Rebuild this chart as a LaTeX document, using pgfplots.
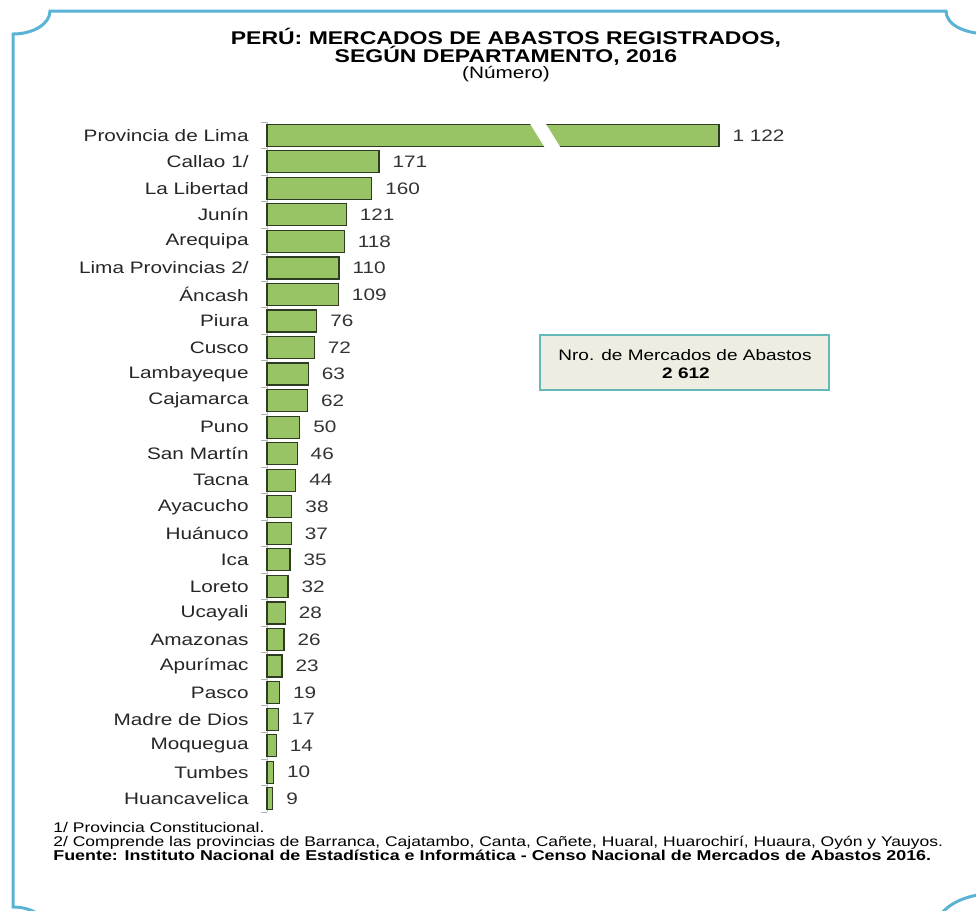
\documentclass[border=0pt]{standalone}
\usepackage{pgfplots}
\pgfplotsset{compat=1.18}
\usepackage{pgfplotstable}
\usepackage{fontspec}
\setmainfont{Liberation Sans}[FakeStretch=1.25]

\definecolor{barfill}{RGB}{152,196,102}
\definecolor{bardraw}{RGB}{45,60,35}
\definecolor{framec}{RGB}{90,178,212}
\definecolor{boxfill}{RGB}{238,237,226}
\definecolor{boxdraw}{RGB}{100,185,185}

% idx 0 = Huancavelica (bottom) ... 25 = Provincia de Lima (top)
% shown = drawn length (the Lima bar is broken), value = printed number
\pgfplotstableread{
idx shown value
0 9 9
1 10 10
2 14 14
3 17 17
4 19 19
5 23 23
6 26 26
7 28 28
8 32 32
9 35 35
10 37 37
11 38 38
12 44 44
13 46 46
14 50 50
15 62 62
16 63 63
17 72 72
18 76 76
19 109 109
20 110 110
21 118 118
22 121 121
23 160 160
24 171 171
25 690 1122
}\mercados

\newcommand{\lab}{\fontsize{8.3}{9}\selectfont}

\begin{document}
\begin{tikzpicture}
\useasboundingbox (0,0) rectangle (488pt,-455.5pt);
\clip (0,0) rectangle (488pt,-455.5pt);

\begin{scope}[x=0.5pt,y=-0.5pt]
% frame
\draw[framec, line width=1.5pt]
  (50,935) .. controls (50,918) and (33,907) .. (13,907)
  -- (13,34) .. controls (33,34) and (50,24) .. (50,11)
  -- (946,11) .. controls (946,24) and (963,34) .. (990,34);
\draw[framec, line width=1.5pt]
  (930,935) .. controls (938,908) and (958,895) .. (995,893);

% titles
\node[font=\bfseries\fontsize{9.2}{10}\selectfont] at (506,38) {PERÚ: MERCADOS DE ABASTOS REGISTRADOS,};
\node[font=\bfseries\fontsize{9.2}{10}\selectfont] at (506,56) {SEGÚN DEPARTAMENTO, 2016};
\node[font=\lab] at (506,74) {(Número)};

% total box
\draw[boxdraw, line width=1.2pt, fill=boxfill] (540,335) rectangle (829,390);
\node[font=\fontsize{7.6}{9}\selectfont] at (685,355) {Nro. de Mercados de Abastos};
\node[font=\bfseries\fontsize{7.6}{9}\selectfont] at (686,373) {2 612};

% notes
\node[anchor=base west, inner sep=0pt, font=\fontsize{7.0}{8}\selectfont] at (53,832) {1/ Provincia Constitucional.};
\node[anchor=base west, inner sep=0pt, font=\fontsize{7.0}{8}\selectfont] at (53,846) {2/ Comprende las provincias de Barranca, Cajatambo, Canta, Cañete, Huaral, Huarochirí, Huaura, Oyón y Yauyos.};
\node[anchor=base west, inner sep=0pt, font=\bfseries\fontsize{7.15}{8}\selectfont] at (53,860) {Fuente: Instituto Nacional de Estadística e Informática - Censo Nacional de Mercados de Abastos 2016.};
\end{scope}

\begin{axis}[
  at={(133.5pt,-406pt)}, anchor=south west,
  x=0.3275pt, y=13.27pt,
  xmin=0, xmax=800, ymin=-0.5, ymax=25.5,
  axis x line=none, axis y line*=left,
  y axis line style={draw=gray!50, line width=0.4pt},
  ytick={0,...,25},
  yticklabels={Huancavelica,Tumbes,Moquegua,Madre de Dios,Pasco,Apurímac,Amazonas,Ucayali,Loreto,Ica,Huánuco,Ayacucho,Tacna,San Martín,Puno,Cajamarca,Lambayeque,Cusco,Piura,Áncash,Lima Provincias 2/,Arequipa,Junín,La Libertad,Callao 1/,Provincia de Lima},
  major tick length=0pt,
  minor ytick={-0.5,0.5,...,25.5},
  minor tick length=3pt,
  tick align=outside,
  minor tick style={gray!60, line width=0.4pt},
  yticklabel style={font=\lab, inner sep=0pt, xshift=-9pt, black!85},
  xbar, bar width=11pt,
  point meta=\thisrow{value},
  nodes near coords={\pgfmathprintnumber[1000 sep={\ },assume math mode=true]{\pgfplotspointmeta}},
  every node near coord/.append style={font=\lab, anchor=west, inner sep=0pt, xshift=6.5pt, black!80},
  clip=false,
]
\addplot[fill=barfill, draw=bardraw, line width=0.6pt] table[x=shown, y=idx]{\mercados};
% break in the Lima bar
\fill[white] (axis cs:397,25.62) -- (axis cs:421,25.62) -- (axis cs:452,24.38) -- (axis cs:428,24.38) -- cycle;
\end{axis}
\end{tikzpicture}
\end{document}
